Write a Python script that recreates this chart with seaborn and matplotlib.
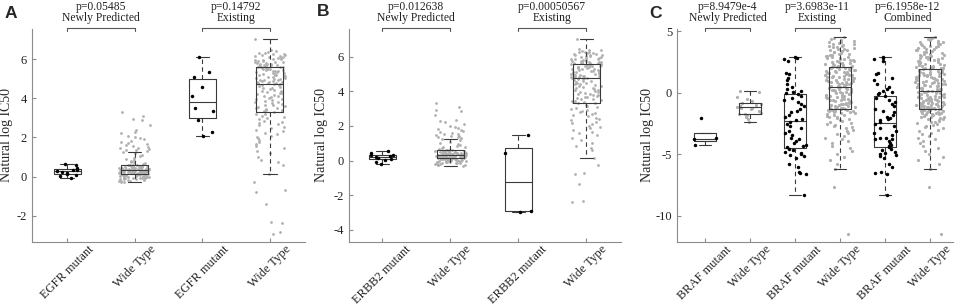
import numpy as np
import pandas as pd
import matplotlib
matplotlib.use("Agg")
import matplotlib.pyplot as plt
import seaborn as sns
from matplotlib.transforms import blended_transform_factory

sns.set_theme(style="white")
plt.rcParams['font.family'] = ['Liberation Serif', 'DejaVu Serif']
plt.rcParams['font.size'] = 9

# ---- data (natural log IC50) ----
# Panel A: EGFR
egfr_new_mut = [0.62, 0.58, 0.42, 0.36, 0.31, 0.28, 0.24, 0.20, 0.12, 0.08, 0.05, -0.05]
egfr_old_mut = [6.10, 5.35, 5.10, 4.60, 4.12, 3.50, 3.35, 2.90, 2.30, 2.05]

# newly predicted wide type (same cell lines in A and B)
new_wt = [3.30, 3.12, 2.95, 2.88, 2.62, 2.36, 2.30, 2.22, 2.10, 2.02, 1.96, 1.90, 1.84,
          1.76, 1.70, 1.66, 1.60, 1.55, 1.51, 1.47, 1.44, 1.40, 1.37, 1.34, 1.31,
          1.25, 1.18, 1.10, 1.04, 0.97, 0.92, 0.86, 0.81, 0.76, 0.72, 0.68, 0.64, 0.61,
          0.60, 0.59, 0.58, 0.57, 0.56, 0.55, 0.54, 0.53, 0.52, 0.51, 0.50, 0.49, 0.49,
          0.48, 0.47, 0.46, 0.45, 0.45, 0.44, 0.43, 0.42, 0.42, 0.41, 0.40, 0.40, 0.39,
          0.39, 0.38, 0.38, 0.37, 0.37, 0.36, 0.36, 0.36, 0.35, 0.35, 0.35,
          0.34, 0.34, 0.33, 0.33, 0.32, 0.32, 0.31, 0.31, 0.30, 0.30, 0.29, 0.29, 0.28,
          0.28, 0.27, 0.27, 0.26, 0.26, 0.25, 0.25, 0.24, 0.24, 0.23, 0.23, 0.22, 0.22,
          0.21, 0.21, 0.20, 0.20, 0.19, 0.19, 0.18, 0.18, 0.17, 0.16, 0.15,
          0.14, 0.13, 0.13, 0.12, 0.11, 0.10, 0.10, 0.09, 0.08, 0.07, 0.06, 0.05, 0.04,
          0.03, 0.02, 0.01, 0.00, -0.01, -0.02, -0.03, -0.04, -0.05, -0.06, -0.07, -0.08,
          -0.09, -0.10, -0.11, -0.12, -0.14, -0.15, -0.17, -0.19, -0.21, -0.23, -0.25,
          -0.28, -0.30]

# existing wide type, shared core plus the low tail of each panel
old_wt_core = [7.05, 6.45, 6.40, 6.36, 6.32, 6.30, 6.28, 6.25, 6.22, 6.20, 6.18, 6.15,
               6.12, 6.10, 6.08, 6.05, 6.02, 6.00, 5.98, 5.95, 5.92, 5.90, 5.88, 5.86,
               5.84, 5.82, 5.80, 5.78, 5.76, 5.74, 5.72, 5.70, 5.69, 5.68, 5.66, 5.65,
               5.64, 5.63, 5.62, 5.61,
               5.58, 5.56, 5.54, 5.52, 5.50, 5.48, 5.46, 5.44, 5.42, 5.40, 5.38, 5.35,
               5.33, 5.31, 5.29, 5.27, 5.25, 5.22, 5.20, 5.18, 5.15, 5.13, 5.10, 5.08,
               5.05, 5.03, 5.00, 4.98, 4.96, 4.94, 4.92, 4.90, 4.88, 4.86, 4.84, 4.82,
               4.80, 4.79, 4.77, 4.76,
               4.73, 4.70, 4.66, 4.62, 4.58, 4.55, 4.51, 4.47, 4.43, 4.40, 4.36, 4.32,
               4.28, 4.25, 4.21, 4.17, 4.13, 4.10, 4.06, 4.02, 3.98, 3.95, 3.91, 3.87,
               3.83, 3.80, 3.76, 3.72, 3.68, 3.65, 3.61, 3.57, 3.53, 3.50, 3.46, 3.42,
               3.40, 3.37, 3.34, 3.31,
               3.22, 3.18, 3.12, 3.05, 2.98, 2.92, 2.85, 2.80, 2.74, 2.68, 2.62, 2.55,
               2.48, 2.40, 2.33, 2.25, 2.18, 2.10, 2.02, 1.95, 1.86, 1.78, 1.68, 1.58,
               1.46, 1.32, 1.18, 1.02, 0.85, 0.72, 0.60, 0.15]
old_wt_tail_a = [-0.26, -0.71, -0.80, -1.39, -2.33, -2.36, -2.86, -2.94]
old_wt_tail_b = [-0.24, -0.69, -0.76, -1.36, -2.36, -2.38]

# Panel B: ERBB2
erbb2_new_mut = [0.55, 0.45, 0.35, 0.30, 0.25, 0.20, 0.15, 0.10, 0.05, -0.10, -0.18]
erbb2_old_mut = [1.50, 0.45, -2.90, -2.95]

# Panel C: BRAF
braf_new_mut = [-2.03, -3.68, -3.80, -4.23]
braf_new_wt = [0.15, 0.05, -0.30, -0.50, -0.70, -0.85, -0.90, -1.00, -1.05, -1.10, -1.15,
               -1.20, -1.25, -1.35, -1.50, -1.68, -1.72, -1.75, -1.80, -1.95, -2.10, -2.35]
braf_old_mut = [2.92, 2.85, 2.78, 2.60, 1.62, 1.50, 1.20, 1.05, 0.75, 0.50, 0.30, 0.15,
                0.05, -0.02,
                -0.12, -0.25, -0.40, -0.55, -0.75, -0.90, -1.10, -1.30, -1.45, -1.60,
                -1.80, -1.95, -2.10, -2.22,
                -2.35, -2.50, -2.70, -2.90, -3.10, -3.30, -3.45, -3.65, -3.80, -3.95,
                -4.10, -4.25, -4.35, -4.45,
                -4.55, -4.65, -4.80, -4.90, -5.00, -5.05, -5.15, -5.30, -5.80, -6.05,
                -6.45, -6.50, -6.60, -8.30]
braf_old_wt = [-11.50, -7.70, -6.24, -5.80, -5.50, -5.20, -4.95, -4.70, -4.50, -4.30,
               -4.10, -3.95, -3.80, -3.65, -3.50, -3.38, -3.25, -3.12, -3.00, -2.90,
               -2.80, -2.70, -2.60, -2.52, -2.44, -2.36, -2.28, -2.21, -2.14, -2.07,
               -2.00, -1.94, -1.88, -1.82, -1.77, -1.72, -1.67, -1.62, -1.58, -1.54,
               -1.50, -1.47, -1.44, -1.41, -1.38, -1.36, -1.34, -1.32, -1.31, -1.30,
               -1.27, -1.23, -1.20, -1.16, -1.12, -1.09, -1.05, -1.02, -0.98, -0.94,
               -0.91, -0.87, -0.84, -0.80, -0.76, -0.73, -0.69, -0.66, -0.62, -0.58,
               -0.55, -0.51, -0.48, -0.44, -0.40, -0.37, -0.33, -0.30, -0.26, -0.22,
               -0.19, -0.15, -0.12, -0.08, -0.04, -0.01, 0.03, 0.06, 0.10, 0.14,
               0.17, 0.21, 0.24, 0.28, 0.32, 0.35, 0.39, 0.42, 0.45, 0.48,
               0.52, 0.55, 0.59, 0.62, 0.66, 0.69, 0.72, 0.76, 0.79, 0.82,
               0.86, 0.89, 0.92, 0.96, 0.99, 1.02, 1.06, 1.09, 1.12, 1.16,
               1.19, 1.22, 1.26, 1.29, 1.32, 1.36, 1.39, 1.42, 1.46, 1.49,
               1.52, 1.56, 1.59, 1.62, 1.66, 1.69, 1.72, 1.76, 1.79, 1.82,
               1.86, 1.89, 1.92, 1.96, 1.99, 2.02, 2.05, 2.08, 2.10, 2.12,
               2.16, 2.20, 2.24, 2.28, 2.32, 2.36, 2.40, 2.44, 2.48, 2.52,
               2.56, 2.60, 2.64, 2.68, 2.72, 2.76, 2.80, 2.84, 2.88, 2.92,
               2.96, 3.00, 3.05, 3.10, 3.15, 3.20, 3.25, 3.30, 3.35, 3.40,
               3.45, 3.50, 3.55, 3.60, 3.65, 3.70, 3.75, 3.80, 3.85, 3.90,
               3.95, 4.00, 4.06, 4.12, 4.18, 4.24, 4.30, 4.38, 4.46, 4.55]

labels_a = ["EGFR mutant", "Wide Type", "EGFR mutant", "Wide Type"]
labels_b = ["ERBB2 mutant", "Wide Type", "ERBB2 mutant", "Wide Type"]
labels_c = ["BRAF mutant", "Wide Type", "BRAF mutant", "Wide Type", "BRAF mutant", "Wide Type"]

pvals_a = ["p=0.05485", "p=0.14792"]
pvals_b = ["p=0.012638", "p=0.00050567"]
pvals_c = ["p=8.9479e-4", "p=3.6983e-11", "p=6.1958e-12"]
set_names = ["Newly Predicted", "Existing", "Combined"]

np.random.seed(7)  # jitter of the strip points only

AXIS_GRAY = "#8c8c8c"
BOX_GRAY = "#3a3a3a"
PT_GRAY = "#b0b0b0"


def make_df(series, kinds):
    frames = []
    for i, (vals, kind) in enumerate(zip(series, kinds)):
        frames.append(pd.DataFrame({"group": f"g{i}", "value": vals, "kind": kind}))
    return pd.concat(frames, ignore_index=True)


def draw_panel(ax, df, labels, pvals, xlim, ylim, yticks, width, jit_mut, jit_wt,
               wt_size, ylab_x):
    order = [f"g{i}" for i in range(len(labels))]
    sns.stripplot(data=df[df.kind == "wt"], x="group", y="value", order=order,
                  color=PT_GRAY, size=wt_size, jitter=jit_wt, linewidth=0, ax=ax, zorder=2)
    sns.stripplot(data=df[df.kind == "mut"], x="group", y="value", order=order,
                  color="black", size=2.5, jitter=jit_mut, linewidth=0, ax=ax, zorder=4)
    sns.boxplot(data=df, x="group", y="value", order=order, width=width, fill=False,
                color=BOX_GRAY, linewidth=0.8, showfliers=False, whis=1.5,
                whiskerprops=dict(linestyle=(0, (4, 3))), ax=ax, zorder=3)

    ax.set_xlim(xlim)
    ax.set_ylim(ylim)
    ax.set_yticks(yticks)
    ax.set_yticklabels([str(t) for t in yticks])
    ax.set_xticks(range(len(labels)))
    ax.set_xticklabels(labels, rotation=45, ha="center", va="top", fontsize=6.9)
    ax.set_xlabel("")
    ax.set_ylabel("Natural log IC50", fontsize=10)
    ax.yaxis.set_label_coords(ylab_x, 0.5)
    for s in ["top", "right"]:
        ax.spines[s].set_visible(False)
    for s in ["left", "bottom"]:
        ax.spines[s].set_color(AXIS_GRAY)
        ax.spines[s].set_linewidth(0.8)
    ax.tick_params(direction="in", length=3, width=0.8, color=AXIS_GRAY,
                   labelsize=9, labelcolor="#222222", left=True, bottom=True)
    ax.tick_params(axis="x", pad=1)

    # brackets with p-values over each pair
    tr = blended_transform_factory(ax.transData, ax.transAxes)
    for k, p in enumerate(pvals):
        i, j = 2 * k, 2 * k + 1
        ax.plot([i, i, j, j], [0.991, 1.004, 1.004, 0.991], transform=tr, clip_on=False,
                color="#555555", lw=0.8)
        ax.text((i + j) / 2, 1.102, p, transform=tr, ha="center", va="center",
                fontsize=8.4, color="#222222")
        ax.text((i + j) / 2, 1.050, set_names[k], transform=tr, ha="center", va="center",
                fontsize=8.4, color="#222222")


fig = plt.figure(figsize=(9.57, 3.05), dpi=100)
W, H = 957, 305
ax_a = fig.add_axes([32 / W, 63 / H, 273 / W, 213 / H])
ax_b = fig.add_axes([349 / W, 63 / H, 272 / W, 213 / H])
ax_c = fig.add_axes([677 / W, 63 / H, 276 / W, 213 / H])

df_a = make_df([egfr_new_mut, new_wt, egfr_old_mut, old_wt_core + old_wt_tail_a],
               ["mut", "wt", "mut", "wt"])
df_b = make_df([erbb2_new_mut, new_wt, erbb2_old_mut, old_wt_core + old_wt_tail_b],
               ["mut", "wt", "mut", "wt"])
df_c = make_df([braf_new_mut, braf_new_wt, braf_old_mut, braf_old_wt,
                braf_old_mut + braf_new_mut, braf_old_wt + braf_new_wt],
               ["mut", "wt", "mut", "wt", "mut", "wt"])

draw_panel(ax_a, df_a, labels_a, pvals_a, (-0.52, 3.52), (-3.35, 7.55), [-2, 0, 2, 4, 6],
           0.4, 0.19, 0.23, 2.0, -0.07)
draw_panel(ax_b, df_b, labels_b, pvals_b, (-0.49, 3.51), (-4.7, 7.6), [-4, -2, 0, 2, 4, 6],
           0.4, 0.19, 0.23, 2.0, -0.077)
draw_panel(ax_c, df_c, labels_c, pvals_c, (-0.62, 5.51), (-12.15, 5.2), [-10, -5, 0, 5],
           0.5, 0.25, 0.33, 2.3, -0.083)

for letter, x, y in [("A", 11, 14), ("B", 323, 12), ("C", 655, 14)]:
    fig.text(x / W, 1 - y / H, letter, family=["Liberation Sans", "DejaVu Sans"],
             fontweight="bold", fontsize=12.5, ha="center", va="center")

fig.savefig("out.png", dpi=100)
